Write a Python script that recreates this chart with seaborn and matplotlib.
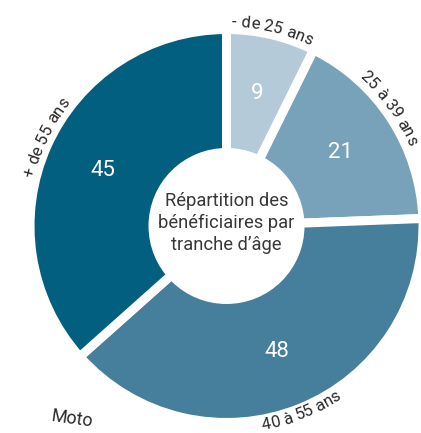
import numpy as np
import pandas as pd
import seaborn as sns
import matplotlib
matplotlib.use("Agg")
import matplotlib.pyplot as plt
from matplotlib.patches import Circle
from matplotlib.font_manager import FontProperties

# ---- data ----
categories = ["- de 25 ans", "25 à 39 ans", "40 à 55 ans", "+ de 55 ans"]
values = [9, 21, 48, 45]
colors_hex = ["#b5cad9", "#78a2b9", "#467f9c", "#025f7f"]
center_title = "Répartition des\nbénéficiaires par\ntranche d’âge"
cut_text = "Moto"

# ---- layout (label angle nudges, degrees) ----
label_nudge = [0, -3, 0, 2]

sns.set_theme(style="white")
plt.rcParams['font.family'] = ['Roboto', 'DejaVu Sans']

W, H = 421, 433
fig = plt.figure(figsize=(W / 100, H / 100), dpi=100)
ax = fig.add_axes([0, 0, 1, 1])

cx, cy = 226.5, H - 226
R = 196.5
total = sum(values)
palette = sns.color_palette(colors_hex)

df = pd.DataFrame({"cat": categories, "val": values})

wedges, texts, autotexts = ax.pie(
    df["val"], colors=palette, startangle=90, counterclock=False,
    center=(cx, cy), radius=R,
    wedgeprops=dict(edgecolor="white", linewidth=6.5),
    autopct=lambda p: f"{p * total / 100:.0f}", pctdistance=0.69,
    textprops=dict(color="white", fontsize=16))
ax.add_patch(Circle((cx, cy), 78, facecolor="white", edgecolor="none", zorder=5))
ax.set_xlim(0, W)
ax.set_ylim(0, H)
ax.set_aspect("equal")
ax.axis("off")

ax.text(cx, cy + 3, center_title, ha="center", va="center", fontsize=13.2,
        linespacing=1.25, color="#383838", zorder=6)

renderer = fig.canvas.get_renderer()
fp = FontProperties(family=["Roboto", "DejaVu Sans"], size=12)


def char_w(c):
    w1, _, _ = renderer.get_text_width_height_descent("x" + c + "x", fp, ismath=False)
    w0, _, _ = renderer.get_text_width_height_descent("xx", fp, ismath=False)
    return w1 - w0


def curved(text, mid_cw, rb, inward):
    widths = [char_w(c) for c in text]
    tw = sum(widths)
    th_mid = np.deg2rad(90 - mid_cw)
    d = 1 if inward else -1
    s = -tw / 2
    for c, w in zip(text, widths):
        sc = s + w / 2
        th = th_mid + d * sc / rb
        x = cx + rb * np.cos(th)
        y = cy + rb * np.sin(th)
        rot = np.rad2deg(th) + (90 if inward else -90)
        ax.text(x, y, c, rotation=rot, rotation_mode="anchor", ha="center",
                va="baseline", fontproperties=fp, color="#2a2a2a")
        s += w


cum = 0
for cat, v, nd in zip(categories, values, label_nudge):
    mid = (cum + v / 2) / total * 360 + nd
    cum += v
    inward = 100 < mid < 260
    curved(cat, mid, 207 if inward else 199, inward)

ax.text(50, H - 421, cut_text, rotation=-8, rotation_mode="anchor", ha="left",
        va="baseline", fontsize=13, color="#2a2a2a")

fig.savefig("out.png", dpi=100)
